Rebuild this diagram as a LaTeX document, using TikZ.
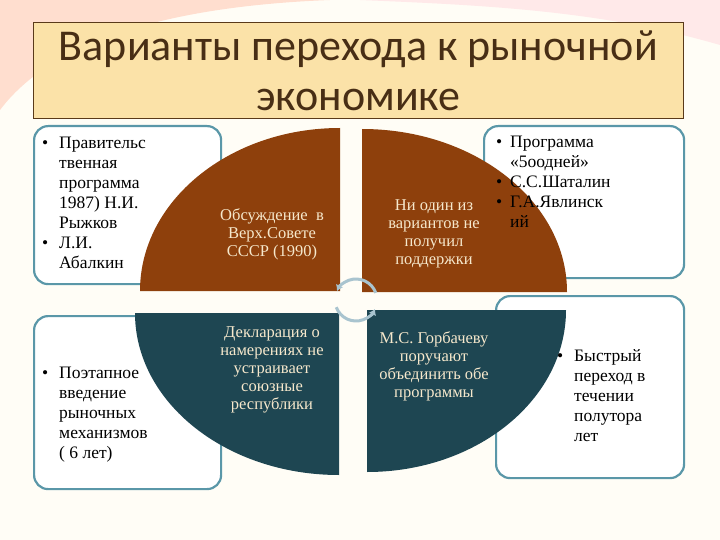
\documentclass[tikz,border=0pt]{standalone}
\usepackage{fontspec}
\setmainfont{Liberation Serif}
\newfontfamily\titlefont{Carlito}
\usetikzlibrary{arrows.meta,calc}
\definecolor{bgc}{HTML}{FFFDF6}
\definecolor{brn}{HTML}{8E400C}
\definecolor{tea}{HTML}{1E4652}
\definecolor{bord}{HTML}{5A97A8}
\definecolor{ttl}{HTML}{FBE2A8}
\definecolor{ttlb}{HTML}{5A3A1A}
\definecolor{crm}{HTML}{F6E8CC}
\definecolor{arr}{HTML}{A9C4CF}
\tikzset{
  infobox/.style={draw=bord,line width=2.2pt,rounded corners=14pt,fill=white},
  boxtxt/.style={anchor=north west,align=left,font=\fontsize{17.5}{20}\selectfont,text=black,inner sep=0pt},
  quadtxt/.style={align=center,font=\fontsize{16.5}{18}\selectfont,text=crm,inner sep=0pt},
}
\begin{document}
\begin{tikzpicture}[x=1pt,y=-1pt]
\fill[bgc] (0,0) rectangle (720,540);
\useasboundingbox (0,0) rectangle (720,540);
% decorative swoosh
\fill[orange!30!pink!40] (0,0) -- (330,0) .. controls (200,5) and (60,30) .. (0,110) -- cycle;
\fill[pink!35] (360,0) -- (720,0) -- (720,45) .. controls (600,10) and (480,5) .. (360,0) -- cycle;
% title
\node[draw=ttlb,fill=ttl,line width=0.8pt,minimum width=650pt,minimum height=96pt,anchor=north west,inner sep=0pt] (title) at (33,22) {};
\node[font=\titlefont\fontsize{44}{50}\selectfont,text=ttlb!80!black,align=center] (ttext) at (title.center) {Варианты перехода к рыночной\\экономике};
% boxes
\node[infobox,minimum width=187pt,minimum height=158pt,anchor=north west] (b1) at (33,125) {};
\node[infobox,minimum width=200pt,minimum height=152pt,anchor=north west] (b2) at (483,125) {};
\node[infobox,minimum width=187pt,minimum height=173pt,anchor=north west] (b3) at (33,315) {};
\node[infobox,minimum width=188pt,minimum height=182pt,anchor=north west] (b4) at (495,295) {};
% quadrants
\fill[brn] (340,291) -- (140,291) arc[start angle=180,end angle=90,x radius=200,y radius=-163] -- cycle;
\fill[brn] (362,292) -- (362,129) arc[start angle=90,end angle=0,x radius=205,y radius=-163] -- cycle;
\fill[tea] (339,313) -- (135,313) arc[start angle=180,end angle=270,x radius=204,y radius=-162] -- cycle;
\fill[tea] (367,310) -- (566,310) arc[start angle=0,end angle=-90,x radius=199,y radius=-162] -- cycle;
% circular arrows
\coordinate (c) at (356,300);
\draw[arr,line width=3pt,-{Latex[length=6pt,width=8pt]}] ($(c)+(160:21)$) arc[start angle=160,end angle=25,radius=21];
\draw[arr,line width=3pt,-{Latex[length=6pt,width=8pt]}] ($(c)+(-20:21)$) arc[start angle=-20,end angle=-155,radius=21];
% box texts
\node[boxtxt] (t1) at (42,137) {\makebox[17pt][l]{•}Правительс\\\hspace*{17pt}твенная\\\hspace*{17pt}программа\\\hspace*{17pt}1987) Н.И.\\\hspace*{17pt}Рыжков\\\makebox[17pt][l]{•}Л.И.\\\hspace*{17pt}Абалкин};
\node[boxtxt] (t2) at (496,136) {\makebox[14pt][l]{•}Программа\\\hspace*{14pt}«5оодней»\\\makebox[14pt][l]{•}С.С.Шаталин\\\makebox[14pt][l]{•}Г.А.Явлинск\\\hspace*{14pt}ий};
\node[boxtxt] (t3) at (42,367) {\makebox[17pt][l]{•}Поэтапное\\\hspace*{17pt}введение\\\hspace*{17pt}рыночных\\\hspace*{17pt}механизмов\\\hspace*{17pt}( 6 лет)};
\node[boxtxt] (t4) at (557,349) {\makebox[17pt][l]{•}Быстрый\\\hspace*{17pt}переход в\\\hspace*{17pt}течении\\\hspace*{17pt}полутора\\\hspace*{17pt}лет};
% quadrant texts
\node[quadtxt] (q1) at (272,234) {Обсуждение\ \ в\\Верх.Совете\\СССР (1990)};
\node[quadtxt] (q2) at (434,234) {Ни один из\\вариантов не\\получил\\поддержки};
\node[quadtxt] (q3) at (272,370) {Декларация о\\намерениях не\\устраивает\\союзные\\республики};
\node[quadtxt] (q4) at (434,366) {М.С. Горбачеву\\поручают\\объединить обе\\программы};
\end{tikzpicture}
\end{document}
